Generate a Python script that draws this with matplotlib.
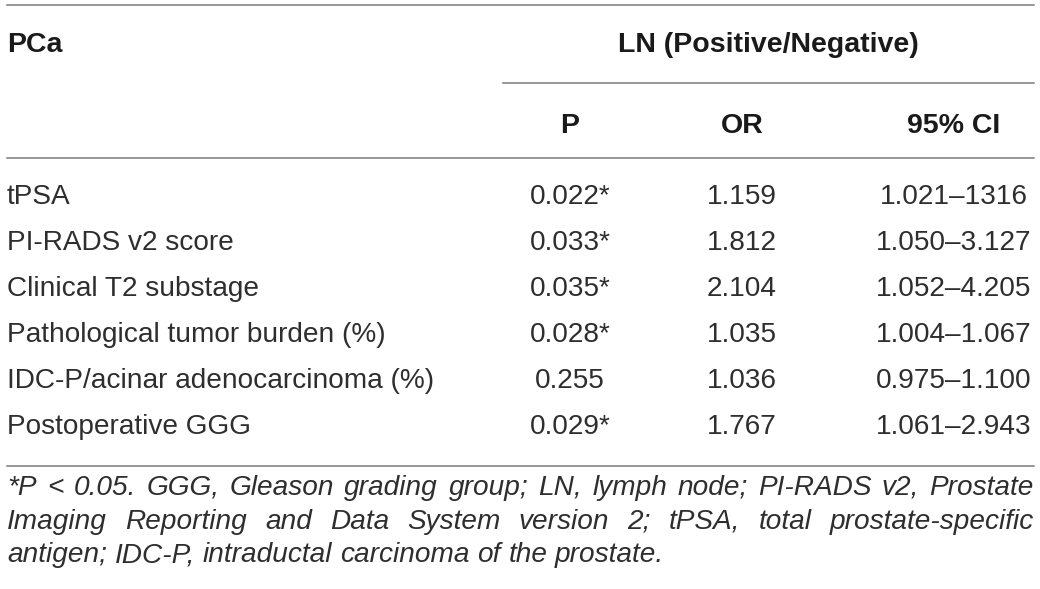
import matplotlib
matplotlib.use("Agg")
import matplotlib.pyplot as plt

# ---- table content ----
stub_header = "PCa"
group_header = "LN (Positive/Negative)"
col_headers = ["P", "OR", "95% CI"]
row_labels = [
    "tPSA",
    "PI-RADS v2 score",
    "Clinical T2 substage",
    "Pathological tumor burden (%)",
    "IDC-P/acinar adenocarcinoma (%)",
    "Postoperative GGG",
]
p_values = ["0.022*", "0.033*", "0.035*", "0.028*", "0.255", "0.029*"]
or_values = ["1.159", "1.812", "2.104", "1.035", "1.036", "1.767"]
ci_values = ["1.021–1316", "1.050–3.127", "1.052–4.205", "1.004–1.067",
             "0.975–1.100", "1.061–2.943"]
footnote_lines = [
    "*P < 0.05. GGG, Gleason grading group; LN, lymph node; PI-RADS v2, Prostate",
    "Imaging Reporting and Data System version 2; tPSA, total prostate-specific",
    "antigen; IDC-P, intraductal carcinoma of the prostate.",
]

# ---- layout (pixels) ----
W, H = 1040, 589
X_L, X_R = 7, 1034
GROUP_RULE_X0 = 503
RULE_Y = dict(top=5, group=83, header=158, bottom=466)
HDR1_BASE = 52
HDR2_BASE = 133
ROW_BASE0 = 204
ROW_STEP = 46
COL_X = [570, 742, 954]
FOOT_BASE = [495, 529, 562]

FONT = ["Liberation Sans", "DejaVu Sans"]
TXT = "#2e2e2e"
RULE = "#7a7a7a"

fig = plt.figure(figsize=(W / 100, H / 100), dpi=100)
ax = fig.add_axes([0, 0, 1, 1])
ax.set_xlim(0, W)
ax.set_ylim(H, 0)
ax.axis("off")

# rules
lw = 1.1
ax.plot([X_L, X_R], [RULE_Y["top"]] * 2, color=RULE, lw=lw)
ax.plot([GROUP_RULE_X0, X_R], [RULE_Y["group"]] * 2, color=RULE, lw=lw)
ax.plot([X_L, X_R], [RULE_Y["header"]] * 2, color=RULE, lw=lw)
ax.plot([X_L, X_R], [RULE_Y["bottom"]] * 2, color=RULE, lw=lw)

hdr_kw = dict(family=FONT, fontsize=20.5, fontweight="bold", color="#1a1a1a", va="baseline")
body_kw = dict(family=FONT, fontsize=20.2, color=TXT, va="baseline")

ax.text(X_L, HDR1_BASE, stub_header, ha="left", **hdr_kw)
ax.text((GROUP_RULE_X0 + X_R) / 2, HDR1_BASE, group_header, ha="center", **hdr_kw)
for x, h in zip(COL_X, col_headers):
    ax.text(x, HDR2_BASE, h, ha="center", **hdr_kw)

for i, (lab, p, o, ci) in enumerate(zip(row_labels, p_values, or_values, ci_values)):
    y = ROW_BASE0 + i * ROW_STEP
    ax.text(X_L, y, lab, ha="left", **body_kw)
    ax.text(COL_X[0], y, p, ha="center", **body_kw)
    ax.text(COL_X[1], y, o, ha="center", **body_kw)
    ax.text(COL_X[2], y, ci, ha="center", **body_kw)

# footnote, justified
foot_kw = dict(family=FONT, fontsize=20.2, style="italic", color=TXT, va="baseline", ha="left")
fig.canvas.draw()
renderer = fig.canvas.get_renderer()
for li, (line, yb) in enumerate(zip(footnote_lines, FOOT_BASE)):
    words = line.split(" ")
    texts = [ax.text(0, yb, w, **foot_kw) for w in words]
    widths = [t.get_window_extent(renderer).width for t in texts]
    if li < len(footnote_lines) - 1:
        gap = (X_R - X_L - sum(widths)) / (len(words) - 1)
    else:
        sp = ax.text(0, yb, "a a", **foot_kw)
        sa = ax.text(0, yb, "aa", **foot_kw)
        gap = sp.get_window_extent(renderer).width - sa.get_window_extent(renderer).width
        sp.remove(); sa.remove()
    x = X_L
    for t, w in zip(texts, widths):
        t.set_x(x)
        x += w + gap

fig.savefig("out.png", dpi=100)
